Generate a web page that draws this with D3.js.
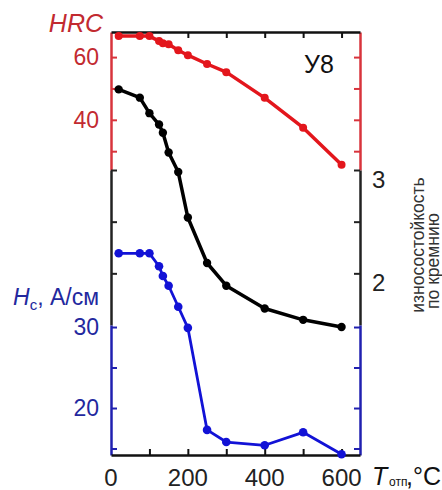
<script src="https://d3js.org/d3.v7.js"></script>
<style>
  body { margin: 0; background: #fff; }
  svg text { font-family: "Liberation Sans", Arial, sans-serif; }
</style>
<svg width="442" height="490"></svg>
<script>
    // tempering temperature, °C
    const temps = [20, 75, 100, 125, 135, 150, 175, 200, 250, 300, 400, 500, 600];
    const hrcValues = [66.7, 66.7, 66.7, 65.1, 64.4, 64.1, 62.2, 60.6, 57.8, 55.2, 47.0, 37.5, 25.7];
    const wearValues = [3.78, 3.70, 3.55, 3.44, 3.36, 3.17, 2.98, 2.54, 2.10, 1.88, 1.66, 1.55, 1.48];
    const hcValues = [39.1, 39.1, 39.1, 37.5, 36.3, 35.1, 32.5, 29.9, 17.3, 15.8, 15.4, 17.0, 14.3];

    const xTicks = [100, 200, 300, 400, 500, 600];
    const xLabels = [0, 200, 400, 600];
    const hrcTicks = [30, 40, 50, 60];
    const hrcLabels = [40, 60];
    const wearTicks = [2, 2.5, 3];
    const wearLabels = [2, 3];
    const hcTicks = [15, 20, 25, 30];
    const hcLabels = [20, 30];

    const RED = '#e3161c', RED_TXT = '#c22a30', RED_AX = '#d8343c';
    const BLUE = '#1212d6', BLUE_TXT = '#23289e', BLUE_AX = '#2020b0';

    const svg = d3.select('svg');
    const pLeft = 111, pRight = 360, pTop = 32, pBottom = 455;

    const x = d3.scaleLinear().domain([0, 648]).range([pLeft, pRight]);
    const yHrc = d3.scaleLinear().domain([68, 24]).range([pTop, 170]);
    const yWear = d3.scaleLinear().domain([3, 1.5]).range([170, 325]);
    const yHc = d3.scaleLinear().domain([30.25, 14.2]).range([325, pBottom]);

    // axis segments
    function sideAxes(xPos, dir) {
        const segs = [[yHrc, hrcTicks, RED_AX], [yWear, wearTicks, '#222'], [yHc, hcTicks, BLUE_AX]];
        segs.forEach(([sc, ticks, col]) => {
            const ax = (dir < 0 ? d3.axisLeft(sc) : d3.axisRight(sc))
                .tickValues(ticks).tickSizeInner(-6).tickSizeOuter(0).tickFormat('');
            const g = svg.append('g').attr('transform', `translate(${xPos},0)`).call(ax);
            g.select('.domain').attr('stroke', col).attr('stroke-width', 2.5);
            g.selectAll('.tick line').attr('stroke', col).attr('stroke-width', 2);
        });
    }
    sideAxes(pLeft, -1);
    sideAxes(pRight, 1);

    const gb = svg.append('g').attr('transform', `translate(0,${pBottom})`)
        .call(d3.axisBottom(x).tickValues(xTicks).tickSizeInner(-6).tickSizeOuter(0).tickFormat(''));
    gb.select('.domain').attr('stroke', '#111').attr('stroke-width', 2.5);
    gb.selectAll('.tick line').attr('stroke', '#111').attr('stroke-width', 2);
    const gt = svg.append('g').attr('transform', `translate(0,${pTop})`)
        .call(d3.axisTop(x).tickValues(xTicks).tickSizeInner(-6).tickSizeOuter(0).tickFormat(''));
    gt.select('.domain').attr('stroke', '#111').attr('stroke-width', 2.5);
    gt.selectAll('.tick line').attr('stroke', '#111').attr('stroke-width', 2);

    // tick labels
    svg.selectAll('.xl').data(xLabels).join('text')
        .attr('x', d => x(d)).attr('y', pBottom + 31)
        .attr('text-anchor', 'middle').attr('font-size', 24).attr('fill', '#222')
        .text(d => d);
    svg.selectAll('.hl').data(hrcLabels).join('text')
        .attr('x', pLeft - 12).attr('y', d => yHrc(d) + 8)
        .attr('text-anchor', 'end').attr('font-size', 23).attr('fill', RED_TXT)
        .text(d => d);
    svg.selectAll('.cl').data(hcLabels).join('text')
        .attr('x', pLeft - 12).attr('y', d => yHc(d) + 8)
        .attr('text-anchor', 'end').attr('font-size', 23).attr('fill', BLUE_TXT)
        .text(d => d);
    svg.selectAll('.wl').data(wearLabels).join('text')
        .attr('x', pRight + 12).attr('y', d => yWear(d) + 18)
        .attr('text-anchor', 'start').attr('font-size', 24).attr('fill', '#222')
        .text(d => d);

    // series
    function series(vals, sc, col, w, r) {
        const pts = temps.map((t, i) => [x(t), sc(vals[i])]);
        svg.append('path').attr('d', d3.line()(pts))
            .attr('fill', 'none').attr('stroke', col).attr('stroke-width', w)
            .attr('stroke-linejoin', 'round');
        svg.append('g').selectAll('circle').data(pts).join('circle')
            .attr('cx', d => d[0]).attr('cy', d => d[1]).attr('r', r).attr('fill', col);
    }
    series(hrcValues, yHrc, RED, 3.5, 4);
    series(wearValues, yWear, '#000', 3.5, 4.2);
    series(hcValues, yHc, BLUE, 2.8, 4.3);

    // titles
    svg.append('text').attr('x', 103).attr('y', 32).attr('text-anchor', 'end')
        .attr('font-size', 25).attr('font-style', 'italic').attr('fill', RED_TXT).text('HRC');
    svg.append('text').attr('x', 304).attr('y', 73).attr('font-size', 25).attr('fill', '#111').text('У8');

    const hcT = svg.append('text').attr('x', 99).attr('y', 305).attr('text-anchor', 'end')
        .attr('font-size', 23).attr('fill', BLUE_TXT);
    hcT.append('tspan').attr('font-style', 'italic').text('H');
    hcT.append('tspan').attr('font-size', 15).attr('dy', 5).text('c');
    hcT.append('tspan').attr('dy', -5).text(', А/см');

    // x axis title: T with subscript "отп", then ", °C"
    const tT = svg.append('g').attr('fill', '#111');
    tT.append('text').attr('x', 372).attr('y', 485).attr('font-size', 25)
        .attr('font-style', 'italic').text('T');
    tT.append('text').attr('x', 389).attr('y', 486).attr('font-size', 12).text('отп');
    tT.append('text').attr('x', 406).attr('y', 485).attr('font-size', 25).text(',');
    tT.append('text').attr('x', 413).attr('y', 485).attr('font-size', 25).text('°C');

    svg.append('text').attr('transform', 'translate(424,245) rotate(-90)')
        .attr('text-anchor', 'middle').attr('font-size', 17.5).attr('fill', '#333').text('износостойкость');
    svg.append('text').attr('transform', 'translate(439,261) rotate(-90)')
        .attr('text-anchor', 'middle').attr('font-size', 17.5).attr('fill', '#333').text('по кремнию');
</script>
